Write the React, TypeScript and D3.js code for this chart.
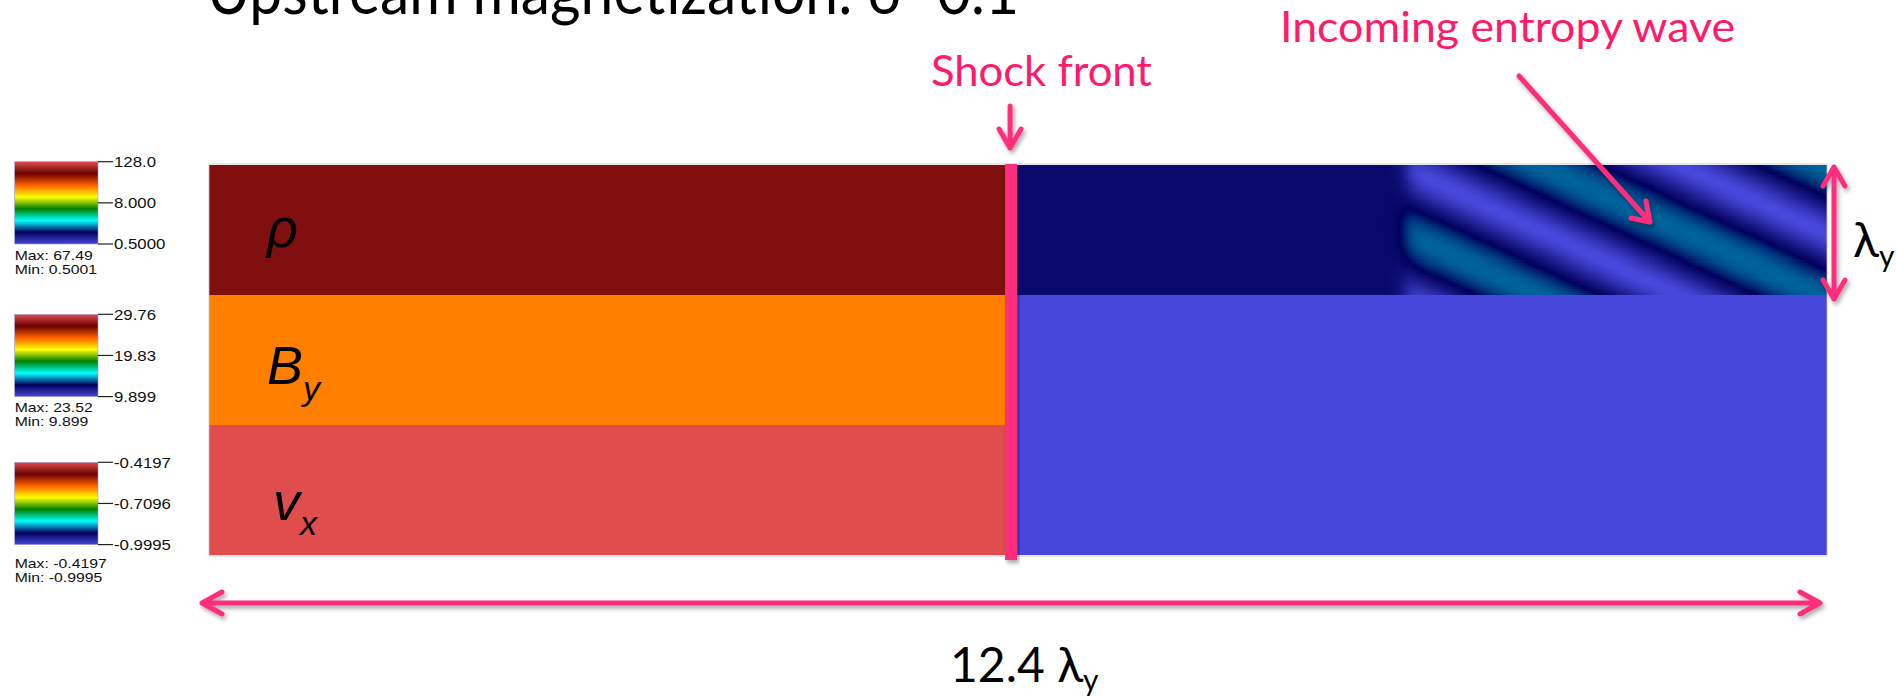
import React from "react";
import * as d3 from "d3";

// ---- data ----
const fieldKeys = ["rho", "By", "vx"];
const fieldSymbols = ["ρ", "B", "v"];
const fieldSubscripts = ["", "y", "x"];
const fieldScaleMin = [0.5, 9.899, -0.9995];
const fieldScaleMax = [128.0, 29.76, -0.4197];
const fieldLogScale = [true, false, false];
const fieldTickLabels = [
  ["128.0", "8.000", "0.5000"],
  ["29.76", "19.83", "9.899"],
  ["-0.4197", "-0.7096", "-0.9995"],
];
const fieldDataMax = ["67.49", "23.52", "-0.4197"];
const fieldDataMin = ["0.5001", "9.899", "-0.9995"];
const downstreamValues = [67.49, 23.52, -0.4197];
const upstreamValues = [1.0, 9.899, -0.9995];

const domainLength = 12.4; // in units of lambda_y
const shockPosition = 6.147;

// incoming entropy wave (density perturbation upstream)
const waveAmplitude = 0.5;
const waveLambdaX = 2.15;
const waveLambdaY = 1.0;
const wavePhaseOrigin = 9.648;
const waveFront = 9.17;
const waveFrontWidth = 0.075;

// ParaView "Rainbow Desaturated"
const rainbowDesaturated = ["#4747db", "#00005c", "#00ffff", "#008000", "#ffff00", "#ff6100", "#6b0000", "#e04d4d"];

const PINK = "#ff2d7b";
const PINK_TEXT = "#ff1a6c";

const W = 1897, H = 699;

export default function App() {
  const x = d3.scaleLinear().domain([0, domainLength]).range([209, 1827]);
  const rows = d3.scaleBand<string>().domain(fieldKeys).range([164, 556]).padding(0).round(true);
  const rh = rows.bandwidth();
  const yIn = d3.scaleLinear().domain([0, waveLambdaY]).range([0, rh]);
  const interp = d3.piecewise(d3.interpolateRgb, rainbowDesaturated);
  const colorScales = fieldKeys.map((_, i) =>
    fieldLogScale[i]
      ? d3.scaleSequentialLog(interp).domain([fieldScaleMin[i], fieldScaleMax[i]])
      : d3.scaleSequential(interp).domain([fieldScaleMin[i], fieldScaleMax[i]])
  );

  // wave cells
  const dx = 1 / 64, dy = 1 / 64;
  const xs = d3.range(waveFront - 0.45, domainLength, dx);
  const ys = d3.range(0, waveLambdaY, dy);
  const cells: { x: number; y: number; v: number }[] = [];
  for (const cx of xs) {
    const env = 0.5 * (1 + Math.tanh((cx + dx / 2 - waveFront) / waveFrontWidth));
    for (const cy of ys) {
      const ph = 2 * Math.PI * ((cx + dx / 2 - wavePhaseOrigin) / waveLambdaX - (cy + dy / 2) / waveLambdaY);
      cells.push({ x: cx, y: cy, v: upstreamValues[0] + waveAmplitude * env * Math.sin(ph) });
    }
  }

  const cbX0 = 14.7, cbX1 = 98;
  const cbTops = [161.7, 314.3, 462.3];
  const cbH = 82.3;
  const cbMaxBase = [260, 412, 568];

  const sx = x(shockPosition);
  const rowTop = rows.range()[0];
  const rowBot = rows.range()[1];
  const rhoTop = rows("rho") as number;
  const byTop = rows("By") as number;

  return (
    <svg width={W} height={H} style={{ position: "absolute", left: 0, top: 0, background: "#fff" }}
      xmlns="http://www.w3.org/2000/svg">
      <defs>
        <linearGradient id="cmap" x1="0" y1="1" x2="0" y2="0">
          {rainbowDesaturated.map((c, i) => (
            <stop key={i} offset={i / (rainbowDesaturated.length - 1)} stopColor={c} />
          ))}
        </linearGradient>
        <filter id="shadow" x="-20%" y="-20%" width="140%" height="140%">
          <feDropShadow dx="2" dy="3" stdDeviation="2" floodColor="#000" floodOpacity="0.35" />
        </filter>
        <clipPath id="rhoClip">
          <rect x={x(0)} y={rhoTop} width={x(domainLength) - x(0)} height={rh} />
        </clipPath>
      </defs>

      {/* title (cut off at top) */}
      <text x={207} y={14} fontFamily="Lato, 'Open Sans', sans-serif" fontSize={64} fill="#000"
        textLength={812} lengthAdjust="spacingAndGlyphs">Upstream magnetization: σ=0.1</text>

      {/* colorbars */}
      {fieldKeys.map((k, i) => {
        const t = cbTops[i];
        const ticksY = [t, t + cbH / 2, t + cbH];
        return (
          <g key={"cb" + k} fontFamily="'Liberation Sans', Arial, sans-serif" fill="#111">
            <rect x={cbX0} y={t} width={cbX1 - cbX0} height={cbH} fill="url(#cmap)" stroke="#9a9ad8" strokeWidth={0.6} />
            {ticksY.map((ty, j) => (
              <g key={j}>
                <line x1={cbX1} x2={cbX1 + 15} y1={ty} y2={ty} stroke="#222" strokeWidth={1.2} />
                <text x={cbX1 + 16} y={ty} dy="0.36em" fontSize={15} transform={`translate(${cbX1 + 16},0) scale(1.12,1) translate(${-(cbX1 + 16)},0)`}>
                  {fieldTickLabels[i][j]}
                </text>
              </g>
            ))}
            <text x={cbX0} y={cbMaxBase[i]} fontSize={13.6} transform={`translate(${cbX0},0) scale(1.16,1) translate(${-cbX0},0)`}>
              {"Max:  " + fieldDataMax[i]}
            </text>
            <text x={cbX0} y={cbMaxBase[i] + 14} fontSize={13.6} transform={`translate(${cbX0},0) scale(1.16,1) translate(${-cbX0},0)`}>
              {"Min:  " + fieldDataMin[i]}
            </text>
          </g>
        );
      })}

      {/* field rows */}
      <g shapeRendering="crispEdges">
        {fieldKeys.map((k, i) => (
          <g key={"row" + k}>
            <rect x={x(0)} y={rows(k)} width={sx - x(0)} height={rh} fill={colorScales[i](downstreamValues[i])} />
            <rect x={sx} y={rows(k)} width={x(domainLength) - sx} height={rh} fill={colorScales[i](upstreamValues[i])} />
          </g>
        ))}
      </g>

      {/* entropy wave */}
      <g shapeRendering="crispEdges" clipPath="url(#rhoClip)">
        {cells.map((c, i) => (
          <rect key={i} x={x(c.x)} y={rhoTop + yIn(c.y)} width={x(c.x + dx) - x(c.x) + 0.6}
            height={yIn(dy) + 0.6} fill={colorScales[0](Math.max(c.v, 0.5))} />
        ))}
      </g>
      <rect x={x(0)} y={rowTop} width={x(domainLength) - x(0)} height={rowBot - rowTop} fill="none" stroke="#c9bfd0" strokeWidth={0.8} />

      {/* field labels */}
      {fieldKeys.map((k, i) => {
        const base = [247, 384, 520][i];
        const lx = i === 2 ? 273 : 267;
        return (
          <text key={"lab" + k} x={lx} y={base} fontFamily="'Liberation Sans', Arial, sans-serif" fontStyle="italic"
            fontSize={54} fill="#000">
            {fieldSymbols[i]}
            {fieldSubscripts[i] && (
              <tspan fontSize={34} dy={i === 1 ? 16 : 15}>{fieldSubscripts[i]}</tspan>
            )}
          </text>
        );
      })}

      {/* shock front */}
      <rect x={sx - 6} y={rowTop} width={12} height={rowBot - rowTop + 4} fill={PINK} filter="url(#shadow)" />
      <g stroke={PINK} strokeWidth={5} strokeLinecap="round" strokeLinejoin="round" fill="none" filter="url(#shadow)">
        <path d={`M${sx - 1},106 L${sx - 1},148 M${sx - 12},129 L${sx - 1},148 L${sx + 10},129`} />
        {/* entropy wave arrow */}
        <path d="M1519,76 L1650,222 M1631,218 L1650,222 L1646,201" />
        {/* lambda_y arrow */}
        <path d={`M1834,${rowTop + 3} L1834,${byTop + 4} M1823,${rowTop + 22} L1834,${rowTop + 3} L1845,${rowTop + 22} M1823,${byTop - 15} L1834,${byTop + 4} L1845,${byTop - 15}`} />
        {/* domain length arrow */}
        <path d={`M${x(0) - 7},603 L${x(domainLength) - 7},603 M${x(0) + 13},592 L${x(0) - 7},603 L${x(0) + 13},614 M${x(domainLength) - 27},592 L${x(domainLength) - 7},603 L${x(domainLength) - 27},614`} />
      </g>

      <g fontFamily="Lato, 'Open Sans', sans-serif">
        <text x={931} y={86} fontSize={42} fill={PINK_TEXT} textLength={221} lengthAdjust="spacingAndGlyphs">Shock front</text>
        <text x={1280} y={42} fontSize={42} fill={PINK_TEXT} textLength={455} lengthAdjust="spacingAndGlyphs">Incoming entropy wave</text>
        <text x={1853} y={257} fontSize={48} fill="#000">λ<tspan fontSize={30} dy={10}>y</tspan></text>
        <text x={950} y={682} fontSize={48} fill="#000">12.4 λ<tspan fontSize={30} dy={9}>y</tspan></text>
      </g>
    </svg>
  );
}
